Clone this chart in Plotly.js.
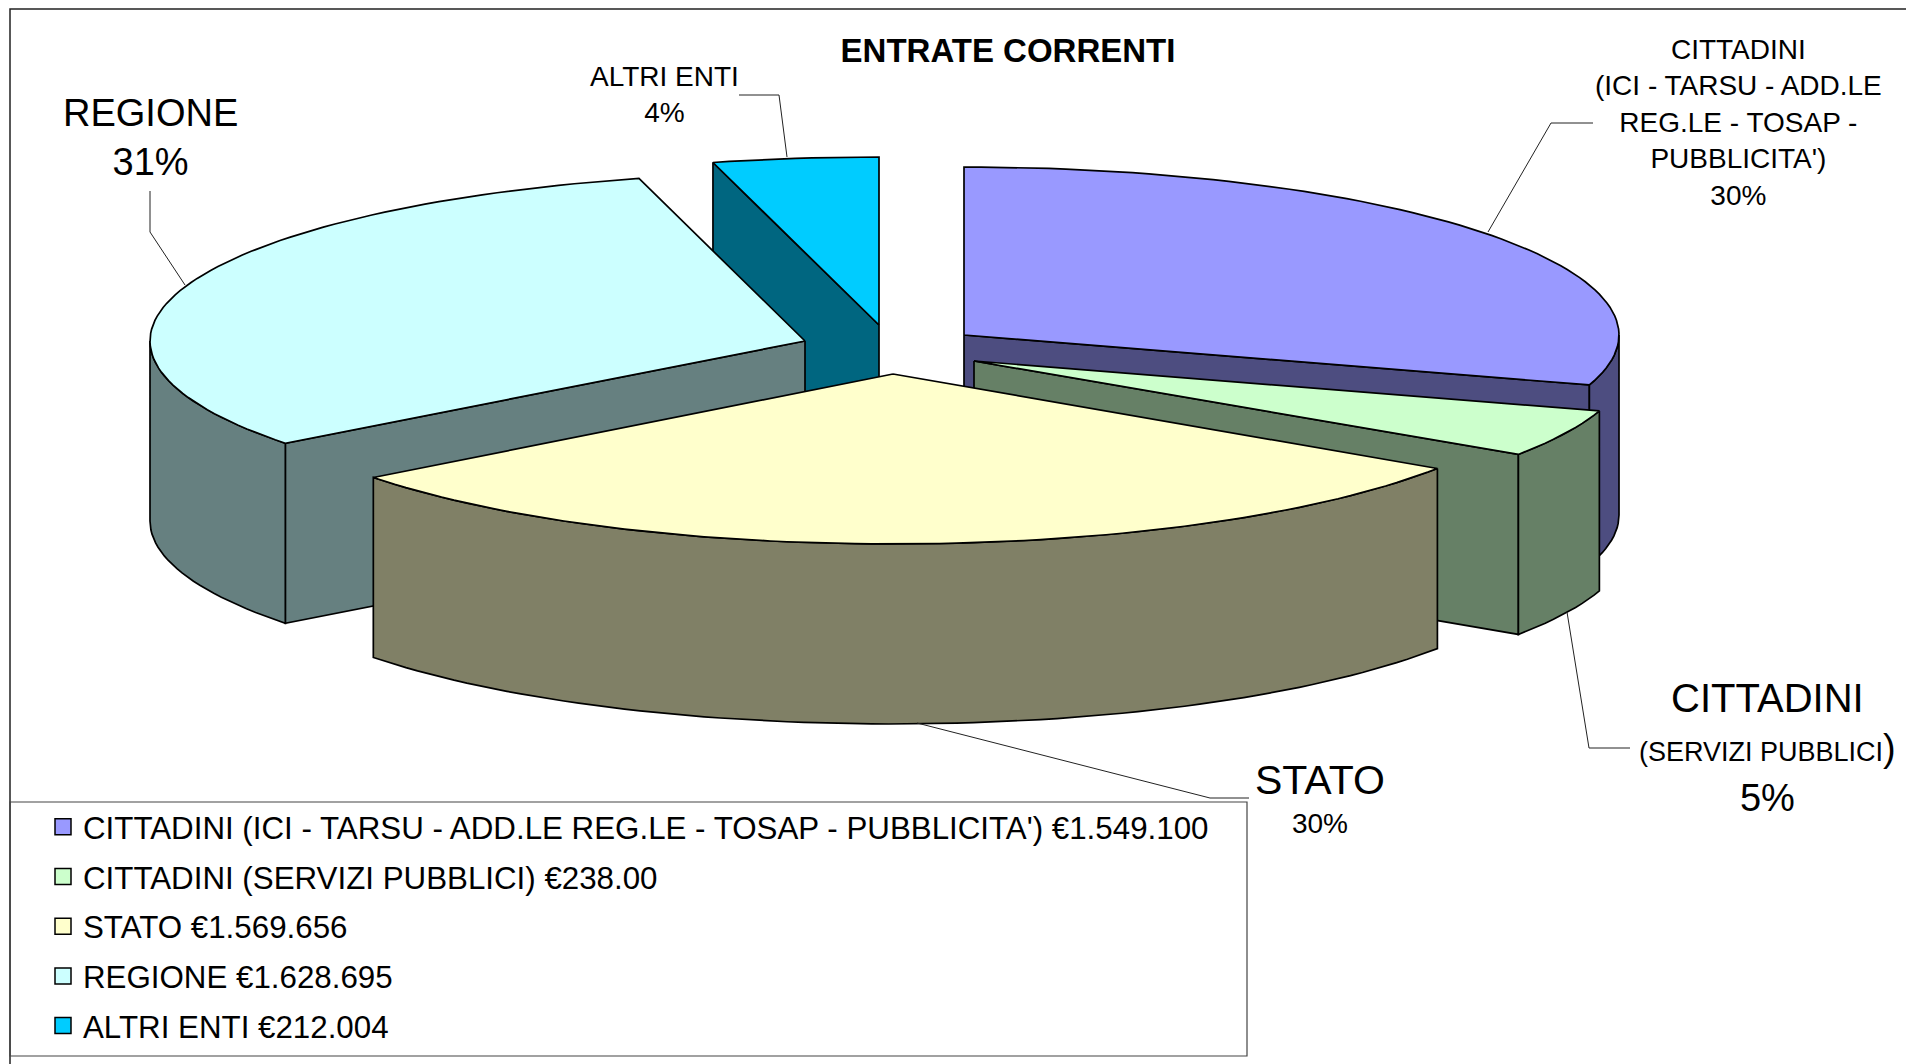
<!DOCTYPE html>
<html>
<head>
<meta charset="utf-8">
<script src="https://cdn.plot.ly/plotly-3.0.1.min.js"></script>
<style>html,body{margin:0;padding:0;background:#fff}#chart{width:1906px;height:1064px}</style>
</head>
<body>
<div id="chart"></div>
<script>
// ---- data ----
const categories = ["CITTADINI (ICI - TARSU - ADD.LE REG.LE - TOSAP - PUBBLICITA')", "CITTADINI (SERVIZI PUBBLICI)", "STATO", "REGIONE", "ALTRI ENTI"];
const values = [1549100, 238000, 1569656, 1628695, 212004];
const valueLabels = ["€1.549.100", "€238.00", "€1.569.656", "€1.628.695", "€212.004"];
const topColors = ["#9999ff", "#ccffcc", "#ffffcc", "#ccffff", "#00ccff"];
const wallColors = ["#4d4d80", "#668066", "#808066", "#668080", "#006680"];

// ---- pie geometry (exploded 3D pie, pixel-scaled axes) ----
const apexX = [964, 974, 893, 805, 879];
const apexY = [335, 361, 374, 341, 325];
const radiusY = [168, 168, 170, 168, 168];
const drawOrder = [0, 4, 3, 1, 2];
const RX = 655, DEPTH = 180;
const FONT = '"Liberation Sans", Arial, sans-serif';

const total = values.reduce((a, b) => a + b, 0);
let acc = 0;
const starts = [], ends = [];
values.forEach(v => { starts.push(acc / total * 360); acc += v; ends.push(acc / total * 360); });
const rad = d => d * Math.PI / 180;
const rimX = (i, d) => apexX[i] + RX * Math.sin(rad(d));
const rimY = (i, d) => apexY[i] - radiusY[i] * Math.cos(rad(d));
function arc(i, from, to) {
  const n = Math.max(2, Math.ceil(Math.abs(to - from) / 1.5));
  const out = [];
  for (let k = 0; k <= n; k++) out.push(from + (to - from) * k / n);
  return out;
}
function poly(xs, ys, color, width) {
  return { type: 'scatter', mode: 'lines', x: xs.concat([xs[0]]), y: ys.concat([ys[0]]), fill: 'toself',
    fillcolor: color, line: { color: '#000', width: width || 1.7 }, showlegend: false, hoverinfo: 'skip' };
}
function cutFace(i, d) {
  const x = rimX(i, d), y = rimY(i, d);
  return poly([apexX[i], x, x, apexX[i]], [apexY[i], y, y + DEPTH, apexY[i] + DEPTH], wallColors[i]);
}
const traces = [];
drawOrder.forEach(i => {
  const s = starts[i], e = ends[i];
  // radial cut faces that look towards the viewer
  if (Math.sin(rad(e)) > 0.001) traces.push(cutFace(i, e));
  if (Math.sin(rad(s)) < -0.001) traces.push(cutFace(i, s));
  // outer wall: only the front half of the rim
  const ws = Math.max(s, 90), we = Math.min(e, 270);
  if (we > ws) {
    const a = arc(i, ws, we);
    traces.push(poly(a.map(d => rimX(i, d)).concat(a.slice().reverse().map(d => rimX(i, d))),
      a.map(d => rimY(i, d)).concat(a.slice().reverse().map(d => rimY(i, d) + DEPTH)), wallColors[i]));
  }
  // top face
  const t = arc(i, s, e);
  traces.push(poly([apexX[i]].concat(t.map(d => rimX(i, d))), [apexY[i]].concat(t.map(d => rimY(i, d))), topColors[i]));
});
// legend entries
categories.forEach((c, i) => {
  traces.push({ type: 'scatter', mode: 'markers', x: [null], y: [null], name: c + ' ' + valueLabels[i], legendgroup: 'g' + i,
    marker: { symbol: 'square', size: 16, color: topColors[i], line: { color: '#000', width: 1.5 } }, hoverinfo: 'skip' });
});

const label = (x, y, text, size) => ({ x, y, xref: 'x', yref: 'y', text, showarrow: false, xanchor: 'center', yanchor: 'middle',
  align: 'center', font: { family: FONT, size, color: '#000' } });
const annotations = [
  label(150, 137, 'REGIONE<br>31%', 38),
  label(664, 94, 'ALTRI ENTI<br>4%', 28),
  label(1738, 122, "CITTADINI<br>(ICI - TARSU - ADD.LE<br>REG.LE - TOSAP -<br>PUBBLICITA')<br>30%", 28),
  label(1767, 747, "<span style='font-size:40px'>CITTADINI</span><br><span style='font-size:27px'>(SERVIZI PUBBLICI</span>)<br>5%", 38),
  label(1320, 798, "<span style='font-size:41px'>STATO</span><br><span style='font-size:28px'>30%</span>", 30)
];
const leader = p => ({ type: 'path', path: p, xref: 'x', yref: 'y', line: { color: '#222', width: 1 } });
const shapes = [
  { type: 'path', path: 'M10,1064 L10,9 L1906,9', xref: 'x', yref: 'y', line: { color: '#222', width: 1.5 } },
  { type: 'rect', x0: 10, x1: 1247, y0: 802, y1: 1056, xref: 'x', yref: 'y', line: { color: '#444', width: 1.2 } },
  leader('M1488,232 L1551,123 L1593,123'),
  leader('M1567,612 L1589,748 L1630,748'),
  leader('M917,723 L1210,798 L1249,798'),
  leader('M185,285 L150,232 L150,191'),
  leader('M787,157 L779,95 L739,95')
];
const layout = {
  width: 1906, height: 1064, margin: { l: 0, r: 0, t: 0, b: 0 }, paper_bgcolor: '#fff', plot_bgcolor: '#fff',
  title: { text: '<b>ENTRATE CORRENTI</b>', x: 1008 / 1906, xanchor: 'center', y: 1 - 50 / 1064, yanchor: 'middle', font: { family: FONT, size: 33, color: '#000' } },
  xaxis: { range: [0, 1906], visible: false, fixedrange: true },
  yaxis: { range: [1064, 0], visible: false, fixedrange: true },
  showlegend: true,
  legend: { x: 43 / 1906, xanchor: 'left', y: 1 - 800 / 1064, yanchor: 'top', bgcolor: 'rgba(0,0,0,0)', borderwidth: 0, tracegroupgap: 6,
    font: { family: FONT, size: 31.3, color: '#000' }, itemclick: false, itemdoubleclick: false },
  annotations, shapes
};
Plotly.newPlot('chart', traces, layout, { displayModeBar: false, staticPlot: true });
</script>
</body>
</html>
